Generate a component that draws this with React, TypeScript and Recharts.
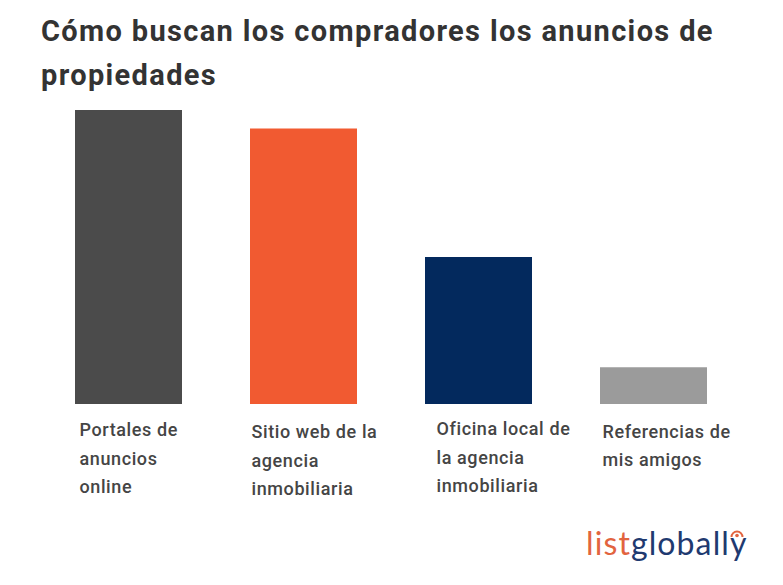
import React from "react";
import { BarChart, Bar, XAxis, YAxis, Cell } from "recharts";

const categories = [
  "Portales de anuncios online",
  "Sitio web de la agencia inmobiliaria",
  "Oficina local de la agencia inmobiliaria",
  "Referencias de mis amigos",
];
const labelLines = [
  ["Portales de", "anuncios", "online"],
  ["Sitio web de la", "agencia", "inmobiliaria"],
  ["Oficina local de", "la agencia", "inmobiliaria"],
  ["Referencias de", "mis amigos"],
];
const values = [48, 45, 24, 6];
const colors = ["#4b4b4b", "#f15a31", "#03295d", "#9b9b9b"];

const data = categories.map((c, i) => ({ name: c, value: values[i], idx: i }));

const tickDx = [-49, -52, -42, -51];
const tickDy = [0, 2, -1, 1.5];

const Tick = (props: any) => {
  const { x, y, index } = props;
  const lines = labelLines[index] || [];
  return (
    <g>
      {lines.map((l, k) => (
        <text
          key={k}
          x={x + tickDx[index]}
          y={y + 24 + tickDy[index] + k * 28.5}
          fill="#454545"
          fontFamily="Roboto"
          fontWeight={500}
          fontSize={18}
          letterSpacing={0.6}
          textAnchor="start"
        >
          {l}
        </text>
      ))}
    </g>
  );
};

export default function App() {
  return (
    <div
      style={{
        position: "absolute",
        left: 0,
        top: 0,
        width: 783,
        height: 585,
        background: "#fff",
        overflow: "hidden",
      }}
    >
      <div
        style={{
          position: "absolute",
          left: 41,
          top: 9,
          width: 740,
          fontFamily: "Roboto",
          fontWeight: 700,
          fontSize: 29,
          letterSpacing: "1.35px",
          lineHeight: "44px",
          color: "#333333",
        }}
      >
        Cómo buscan los compradores los anuncios de propiedades
      </div>
      <BarChart
        width={783}
        height={585}
        data={data}
        margin={{ top: 110, right: 42, left: 41, bottom: 0 }}
        barSize={107}
      >
        <YAxis hide domain={[0, 48]} />
        <XAxis
          dataKey="name"
          height={181}
          axisLine={false}
          tickLine={false}
          interval={0}
          tick={<Tick />}
        />
        <Bar dataKey="value" isAnimationActive={false}>
          {data.map((d, i) => (
            <Cell key={i} fill={colors[i]} />
          ))}
        </Bar>
      </BarChart>
      <div
        style={{
          position: "absolute",
          left: 586,
          top: 521,
          fontFamily: "Lato",
          fontWeight: 400,
          fontSize: 32,
          letterSpacing: "1.1px",
          lineHeight: "44px",
        }}
      >
        <span style={{ color: "#e2643f" }}>list</span>
        <span style={{ color: "#1f3a70" }}>globally</span>
      </div>
      <svg
        style={{ position: "absolute", left: 727, top: 525 }}
        width={20}
        height={20}
      >
        <path
          d="M 4.5 12 A 5.5 5.5 0 1 1 15.5 12"
          fill="none"
          stroke="#e2643f"
          strokeWidth={2}
        />
        <circle cx={10} cy={10.5} r={1.8} fill="#e2643f" />
      </svg>
    </div>
  );
}
